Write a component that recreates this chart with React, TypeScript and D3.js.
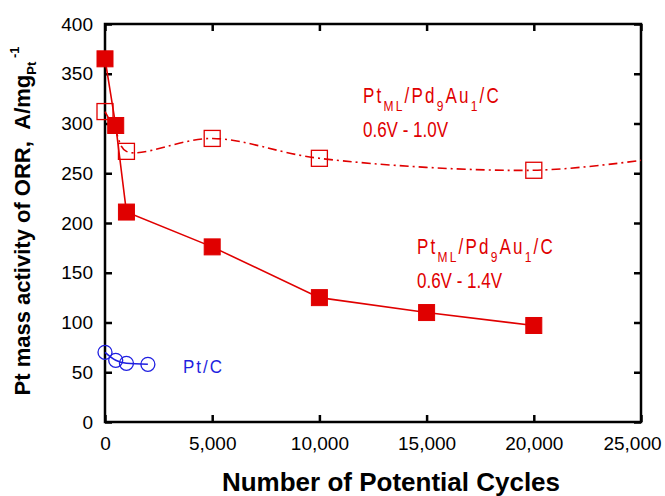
import React, { useEffect, useRef } from "react";
import * as d3 from "d3";

// 0.6V - 1.4V, filled squares
const cyclesHigh = [0, 500, 1000, 5000, 10000, 15000, 20000];
const activityHigh = [365, 298, 211, 176, 125, 110, 97];

// 0.6V - 1.0V, open squares (line continues as trend to 25,000)
const cyclesLow = [0, 1000, 5000, 10000, 20000];
const activityLow = [312, 272, 285, 265, 253];
const trendLowX = [0, 500, 1000, 5000, 10000, 20000, 25000];
const trendLowY = [312, 292, 272, 285, 265, 253, 263];

// Pt/C, open circles
const cyclesPtC = [0, 500, 1000, 2000];
const activityPtC = [70, 62, 59, 58];

const xTicks = [0, 5000, 10000, 15000, 20000, 25000];
const yTicks = [0, 50, 100, 150, 200, 250, 300, 350, 400];

const RED = "#e00000";
const BLUE = "#1f1fe0";

export default function App() {
  const ref = useRef<SVGSVGElement>(null);

  useEffect(() => {
    const svg = d3.select(ref.current);
    svg.selectAll("*").remove();
    const left = 105, right = 641, top = 24, bottom = 422;
    const x = d3.scaleLinear().domain([0, 25000]).range([left, right]);
    const y = d3.scaleLinear().domain([0, 400]).range([bottom, top]);
    const font = "'Liberation Sans', Arial, sans-serif";

    // frame
    svg.append("rect")
      .attr("x", left).attr("y", top)
      .attr("width", right - left).attr("height", bottom - top)
      .attr("fill", "none").attr("stroke", "#000").attr("stroke-width", 2.5);

    const tl = 7;
    const fmt = d3.format(",");
    const axB = svg.append("g").attr("transform", `translate(0,${bottom})`)
      .call(d3.axisBottom(x).tickValues(xTicks).tickSize(-tl).tickPadding(15).tickFormat(d => fmt(+d)));
    const axT = svg.append("g").attr("transform", `translate(0,${top})`)
      .call(d3.axisTop(x).tickValues(xTicks).tickSize(-tl).tickFormat(() => ""));
    const axL = svg.append("g").attr("transform", `translate(${left},0)`)
      .call(d3.axisLeft(y).tickValues(yTicks).tickSize(-tl).tickPadding(12));
    const axR = svg.append("g").attr("transform", `translate(${right},0)`)
      .call(d3.axisRight(y).tickValues(yTicks).tickSize(-tl).tickFormat(() => ""));
    [axB, axT, axL, axR].forEach(a => {
      a.select(".domain").remove();
      a.selectAll("line").attr("stroke", "#000").attr("stroke-width", 2.5);
      a.selectAll("text").attr("fill", "#000").style("font-family", font).style("font-size", "19px");
    });
    // last x label pulled in so it stays inside the picture
    axB.selectAll<SVGTextElement, number>("text").filter(d => d === 25000).attr("dx", -9);

    // 0.6-1.0V trend, dash-dot
    const low = trendLowX.map((v, i) => [v, trendLowY[i]] as [number, number]);
    svg.append("path")
      .attr("d", d3.line().x(d => x(d[0])).y(d => y(d[1])).curve(d3.curveCatmullRom)(low))
      .attr("fill", "none").attr("stroke", RED).attr("stroke-width", 1.6)
      .attr("stroke-dasharray", "9,4,2,4");
    svg.append("g").selectAll("rect").data(cyclesLow).enter().append("rect")
      .attr("x", (d) => x(d) - 8).attr("y", (d, i) => y(activityLow[i]) - 8)
      .attr("width", 16).attr("height", 16)
      .attr("fill", "none").attr("stroke", RED).attr("stroke-width", 1.3);

    // 0.6-1.4V
    const high = cyclesHigh.map((v, i) => [v, activityHigh[i]] as [number, number]);
    svg.append("path")
      .attr("d", d3.line().x(d => x(d[0])).y(d => y(d[1]))(high))
      .attr("fill", "none").attr("stroke", RED).attr("stroke-width", 1.6);
    svg.append("g").selectAll("rect").data(cyclesHigh).enter().append("rect")
      .attr("x", (d) => x(d) - 8).attr("y", (d, i) => y(activityHigh[i]) - 8)
      .attr("width", 16).attr("height", 16)
      .attr("fill", RED).attr("stroke", RED).attr("stroke-width", 1);

    // Pt/C
    const ptc = cyclesPtC.map((v, i) => [v, activityPtC[i]] as [number, number]);
    svg.append("path")
      .attr("d", d3.line().x(d => x(d[0])).y(d => y(d[1])).curve(d3.curveMonotoneX)(ptc))
      .attr("fill", "none").attr("stroke", BLUE).attr("stroke-width", 1.6);
    svg.append("g").selectAll("circle").data(cyclesPtC).enter().append("circle")
      .attr("cx", (d) => x(d)).attr("cy", (d, i) => y(activityPtC[i]))
      .attr("r", 7).attr("fill", "none").attr("stroke", BLUE).attr("stroke-width", 1.3);

    // labels (reference text is a bit stretched vertically)
    const label = (tx: number, ty: number, color: string, sy = 1.25) =>
      svg.append("g").attr("transform", `translate(${tx},${ty}) scale(1,${sy})`)
        .append("text").attr("fill", color)
        .style("font-family", font).style("font-size", "17px").style("letter-spacing", "2.2px");
    const catalyst = (tx: number, ty: number) => {
      const t = label(tx, ty, RED);
      t.append("tspan").text("Pt");
      t.append("tspan").attr("dy", 6).style("font-size", "12px").text("ML");
      t.append("tspan").attr("dy", -6).text("/Pd");
      t.append("tspan").attr("dy", 6).style("font-size", "12px").text("9");
      t.append("tspan").attr("dy", -6).text("Au");
      t.append("tspan").attr("dy", 6).style("font-size", "12px").text("1");
      t.append("tspan").attr("dy", -6).text("/C");
    };
    catalyst(363, 103);
    label(363, 137, RED).style("letter-spacing", "0px").text("0.6V - 1.0V");
    catalyst(417, 254);
    label(417, 288, RED).style("letter-spacing", "0px").text("0.6V - 1.4V");
    label(183, 373, BLUE, 1.1).style("letter-spacing", "2px").text("Pt/C");

    // axis titles
    svg.append("text").attr("x", 391).attr("y", 491)
      .attr("text-anchor", "middle").style("font-family", font)
      .style("font-size", "26px").style("font-weight", "bold").text("Number of Potential Cycles");

    const yt = svg.append("text").attr("transform", "translate(30,221) rotate(-90)")
      .attr("text-anchor", "middle").style("font-family", font).style("white-space", "pre")
      .style("font-size", "22px").style("font-weight", "bold");
    yt.append("tspan").text("Pt mass activity of ORR,  A/mg");
    yt.append("tspan").attr("dy", 6).style("font-size", "13px").text("Pt");
    yt.append("tspan").attr("dy", -17).style("font-size", "13px").text(" -1");
  }, []);

  return (
    <svg ref={ref} width={665} height={496}
      style={{ position: "absolute", left: 0, top: 0, background: "#fff" }} />
  );
}
